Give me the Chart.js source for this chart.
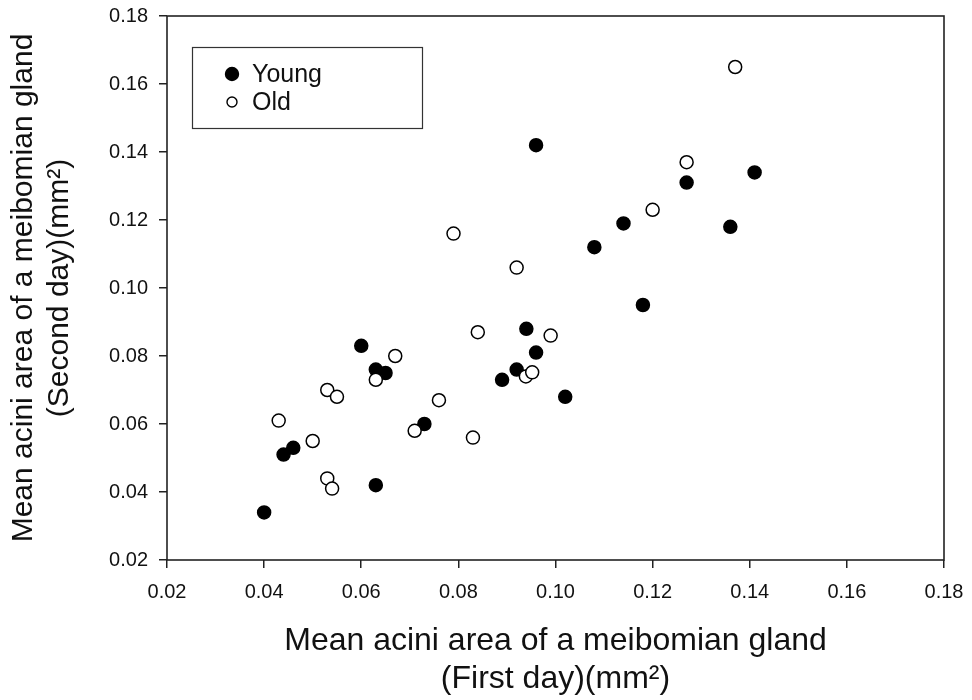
<!DOCTYPE html>
<html>
<head>
<meta charset="utf-8">
<script src="https://cdn.jsdelivr.net/npm/chart.js@4.4.0/dist/chart.umd.min.js"></script>
<style>
  html, body { margin: 0; padding: 0; background: #fff; }
  #wrap { width: 972px; height: 700px; }
</style>
</head>
<body>
<div id="wrap"><canvas id="AciniChart" width="972" height="700"></canvas></div>
<script>
// values (mm^2)
var youngX = [0.040, 0.044, 0.046, 0.060, 0.063, 0.065, 0.063, 0.073, 0.089, 0.092, 0.094, 0.096, 0.102, 0.118, 0.096, 0.141, 0.127, 0.114, 0.108, 0.136];
var youngY = [0.034, 0.051, 0.053, 0.083, 0.076, 0.075, 0.042, 0.060, 0.073, 0.076, 0.088, 0.081, 0.068, 0.095, 0.142, 0.134, 0.131, 0.119, 0.112, 0.118];
var oldX = [0.043, 0.050, 0.053, 0.055, 0.053, 0.054, 0.063, 0.067, 0.071, 0.076, 0.083, 0.084, 0.0939, 0.0952, 0.099, 0.079, 0.092, 0.137, 0.127, 0.120];
var oldY = [0.061, 0.055, 0.070, 0.068, 0.044, 0.041, 0.073, 0.080, 0.058, 0.067, 0.056, 0.087, 0.074, 0.0752, 0.086, 0.116, 0.106, 0.165, 0.137, 0.123];
var seriesNames = ['Young', 'Old'];
var xTitle = ['Mean acini area of a meibomian gland', '(First day)(mm\u00B2)'];
var yTitle = ['Mean acini area of a meibomian gland', '(Second day)(mm\u00B2)'];

function pairs(xs, ys) {
  var out = [];
  for (var i = 0; i < xs.length; i++) out.push({x: xs[i], y: ys[i]});
  return out;
}

var FONT = "'Liberation Sans', Arial, sans-serif";

// frame round the plot + legend box in the upper left
var boxPlugin = {
  id: 'boxPlugin',
  afterDraw: function(chart) {
    var ctx = chart.ctx, a = chart.chartArea;
    ctx.save();
    ctx.strokeStyle = '#222';
    ctx.lineWidth = 1.6;
    ctx.strokeRect(a.left, a.top, a.right - a.left, a.bottom - a.top);

    // legend
    ctx.lineWidth = 1.2;
    ctx.strokeStyle = '#333';
    ctx.strokeRect(192.5, 47.5, 230, 81);
    var ds = chart.data.datasets;
    var rows = [74, 102];
    ctx.font = '25px ' + FONT;
    ctx.textBaseline = 'middle';
    for (var i = 0; i < ds.length; i++) {
      ctx.beginPath();
      ctx.arc(232, rows[i], i === 0 ? 6.5 : 5, 0, Math.PI * 2);
      ctx.fillStyle = ds[i].backgroundColor;
      ctx.fill();
      ctx.lineWidth = 1.4;
      ctx.strokeStyle = '#000';
      ctx.stroke();
      ctx.fillStyle = '#111';
      ctx.fillText(ds[i].label, 252, rows[i] + 1);
    }
    ctx.restore();
  }
};

var ctx = document.getElementById('AciniChart').getContext('2d');
var chart = new Chart(ctx, {
  type: 'scatter',
  data: {
    datasets: [{
      label: seriesNames[0],
      data: pairs(youngX, youngY),
      backgroundColor: '#000',
      borderColor: '#000',
      borderWidth: 1.5,
      pointRadius: 6.5,
      order: 1
    }, {
      label: seriesNames[1],
      data: pairs(oldX, oldY),
      backgroundColor: '#fff',
      borderColor: '#000',
      borderWidth: 1.5,
      pointRadius: 6.5,
      order: 0
    }]
  },
  options: {
    responsive: false,
    animation: false,
    layout: {padding: {left: 0, top: 16, right: 28, bottom: 0}},
    plugins: {
      legend: {display: false},
      tooltip: {enabled: false}
    },
    scales: {
      x: {
        type: 'linear',
        min: 0.02,
        max: 0.18,
        border: {display: false},
        grid: {drawOnChartArea: false, tickLength: 8, color: '#222', lineWidth: 1.5},
        ticks: {
          stepSize: 0.02,
          padding: 12,
          color: '#111',
          font: {family: FONT, size: 20},
          callback: function(v) { return v.toFixed(2); }
        },
        title: {
          display: true,
          text: xTitle,
          color: '#111',
          font: {family: FONT, size: 32},
          padding: {top: 0, bottom: 1.5}
        },
        afterFit: function(scale) {
          scale.height = 140;
          scale.paddingLeft = 0;
          scale.paddingRight = 0;
        }
      },
      y: {
        type: 'linear',
        min: 0.02,
        max: 0.18,
        border: {display: false},
        grid: {drawOnChartArea: false, tickLength: 8, color: '#222', lineWidth: 1.5},
        ticks: {
          stepSize: 0.02,
          padding: 11,
          color: '#111',
          font: {family: FONT, size: 20},
          callback: function(v) { return v.toFixed(2); }
        },
        title: {
          display: true,
          text: yTitle,
          color: '#111',
          font: {family: FONT, size: 30},
          padding: {top: 6, bottom: 0}
        },
        afterFit: function(scale) {
          scale.width = 167;
          scale.paddingTop = 0;
          scale.paddingBottom = 0;
        }
      }
    }
  },
  plugins: [boxPlugin]
});
</script>
</body>
</html>
